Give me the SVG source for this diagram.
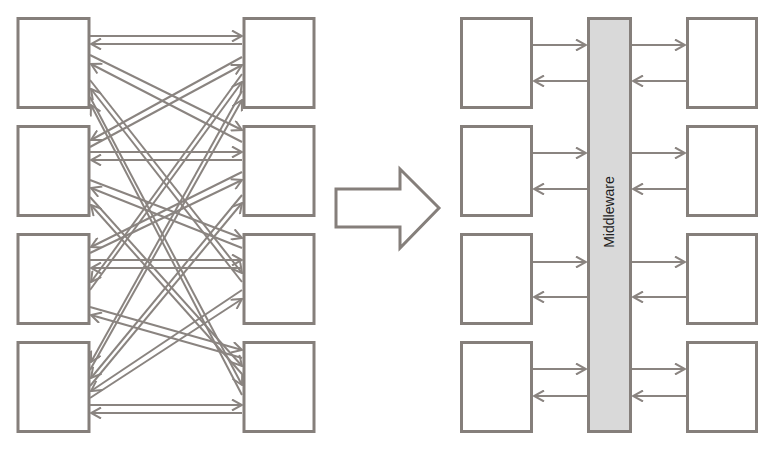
<svg xmlns="http://www.w3.org/2000/svg" width="779" height="450" viewBox="0 0 779 450">
<defs>
<style>
.box{fill:#ffffff;stroke:#857f7b;stroke-width:3}
.mw{fill:#d9d9d9;stroke:#857f7b;stroke-width:3}
.c{stroke:#8a8480;stroke-width:2;fill:none;marker-end:url(#ah)}
.big{fill:#ffffff;stroke:#857f7b;stroke-width:3;stroke-linejoin:miter}
.t{font-family:"Liberation Sans",Arial,sans-serif;font-size:14px;fill:#1e1e1e}
</style>
<marker id="ah" viewBox="0 0 12 12" refX="11" refY="6" markerWidth="12" markerHeight="12" markerUnits="userSpaceOnUse" orient="auto">
<path d="M1,0.5 L11,6 L1,11.5" fill="none" stroke="#8a8480" stroke-width="2"/>
</marker>
</defs>
<rect width="779" height="450" fill="#ffffff"/>

<g id="left-a1"><rect class="box" x="18" y="18.5" width="71" height="89"/></g>
<g id="left-a2"><rect class="box" x="18" y="126.5" width="71" height="89"/></g>
<g id="left-a3"><rect class="box" x="18" y="234.5" width="71" height="89"/></g>
<g id="left-a4"><rect class="box" x="18" y="342.5" width="71" height="89"/></g>
<g id="left-b1"><rect class="box" x="244" y="18.5" width="70" height="89"/></g>
<g id="left-b2"><rect class="box" x="244" y="126.5" width="70" height="89"/></g>
<g id="left-b3"><rect class="box" x="244" y="234.5" width="70" height="89"/></g>
<g id="left-b4"><rect class="box" x="244" y="342.5" width="70" height="89"/></g>

<g id="transition-arrow"><polygon class="big" points="336,189 400,189 400,169 439,208 400,248 400,227 336,227"/></g>

<g id="right-a1"><rect class="box" x="461.5" y="18.5" width="70" height="89"/></g>
<g id="right-a2"><rect class="box" x="461.5" y="126.5" width="70" height="89"/></g>
<g id="right-a3"><rect class="box" x="461.5" y="234.5" width="70" height="89"/></g>
<g id="right-a4"><rect class="box" x="461.5" y="342.5" width="70" height="89"/></g>
<g id="middleware"><rect class="mw" x="588.5" y="18.5" width="42" height="413"/>
<text class="t" x="614" y="212" text-anchor="middle" transform="rotate(-90 614 212)">Middleware</text></g>
<g id="right-b1"><rect class="box" x="687.5" y="18.5" width="69" height="89"/></g>
<g id="right-b2"><rect class="box" x="687.5" y="126.5" width="69" height="89"/></g>
<g id="right-b3"><rect class="box" x="687.5" y="234.5" width="69" height="89"/></g>
<g id="right-b4"><rect class="box" x="687.5" y="342.5" width="69" height="89"/></g>

<g id="connectors">
<line class="c" x1="90" y1="36" x2="242" y2="36"/>
<line class="c" x1="242" y1="44" x2="91" y2="44"/>
<line class="c" x1="90" y1="55" x2="242" y2="130"/>
<line class="c" x1="242" y1="142" x2="91" y2="64"/>
<line class="c" x1="90" y1="80" x2="242" y2="273"/>
<line class="c" x1="242" y1="282" x2="91" y2="89"/>
<line class="c" x1="90" y1="97" x2="242" y2="385"/>
<line class="c" x1="242" y1="395" x2="91" y2="105"/>
<line class="c" x1="242" y1="57" x2="91" y2="140"/>
<line class="c" x1="90" y1="147" x2="242" y2="65"/>
<line class="c" x1="90" y1="152" x2="242" y2="152"/>
<line class="c" x1="242" y1="160" x2="91" y2="160"/>
<line class="c" x1="90" y1="180" x2="242" y2="238"/>
<line class="c" x1="242" y1="248" x2="91" y2="188"/>
<line class="c" x1="90" y1="197" x2="242" y2="366"/>
<line class="c" x1="242" y1="374" x2="91" y2="205"/>
<line class="c" x1="242" y1="74" x2="91" y2="282"/>
<line class="c" x1="90" y1="290" x2="242" y2="82"/>
<line class="c" x1="242" y1="172" x2="91" y2="247"/>
<line class="c" x1="90" y1="253" x2="242" y2="180"/>
<line class="c" x1="90" y1="260" x2="242" y2="260"/>
<line class="c" x1="242" y1="268" x2="91" y2="268"/>
<line class="c" x1="90" y1="307" x2="242" y2="350"/>
<line class="c" x1="242" y1="358" x2="91" y2="315"/>
<line class="c" x1="242" y1="91" x2="91" y2="362"/>
<line class="c" x1="90" y1="370" x2="242" y2="100"/>
<line class="c" x1="242" y1="195" x2="91" y2="378"/>
<line class="c" x1="90" y1="386" x2="242" y2="203"/>
<line class="c" x1="242" y1="290" x2="91" y2="391"/>
<line class="c" x1="90" y1="398" x2="242" y2="299"/>
<line class="c" x1="90" y1="405" x2="242" y2="405"/>
<line class="c" x1="242" y1="413" x2="91" y2="413"/>

<line class="c" x1="533" y1="45" x2="586" y2="45"/>
<line class="c" x1="587" y1="81" x2="534" y2="81"/>
<line class="c" x1="632" y1="45" x2="685" y2="45"/>
<line class="c" x1="686" y1="81" x2="633" y2="81"/>
<line class="c" x1="533" y1="153" x2="586" y2="153"/>
<line class="c" x1="587" y1="189" x2="534" y2="189"/>
<line class="c" x1="632" y1="153" x2="685" y2="153"/>
<line class="c" x1="686" y1="189" x2="633" y2="189"/>
<line class="c" x1="533" y1="262" x2="586" y2="262"/>
<line class="c" x1="587" y1="297" x2="534" y2="297"/>
<line class="c" x1="632" y1="262" x2="685" y2="262"/>
<line class="c" x1="686" y1="297" x2="633" y2="297"/>
<line class="c" x1="533" y1="369" x2="586" y2="369"/>
<line class="c" x1="587" y1="396" x2="534" y2="396"/>
<line class="c" x1="632" y1="369" x2="685" y2="369"/>
<line class="c" x1="686" y1="396" x2="633" y2="396"/>
</g>
</svg>
